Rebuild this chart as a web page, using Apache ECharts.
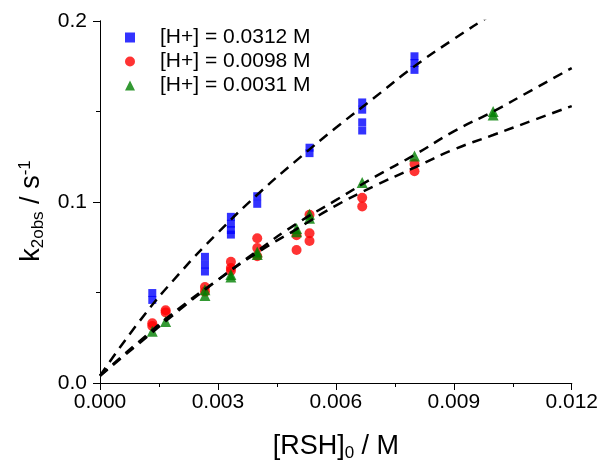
<!DOCTYPE html>
<html><head><meta charset="utf-8">
<script src="https://cdn.jsdelivr.net/npm/echarts@6/dist/echarts.min.js"></script>
<style>html,body{margin:0;padding:0;background:#fff}#c{width:601px;height:467px}</style>
</head><body><div id="c"></div>
<script>
const seriesNames = ['[H+] = 0.0312 M', '[H+] = 0.0098 M', '[H+] = 0.0031 M'];
const blueData = [[0.00133,0.0497],[0.00133,0.0459],
 [0.00267,0.0697],[0.00267,0.0654],[0.00267,0.0616],
 [0.00333,0.0918],[0.00333,0.0880],[0.00333,0.0845],[0.00333,0.0820],
 [0.004,0.1032],[0.004,0.0990],
 [0.00533,0.1300],[0.00533,0.1270],
 [0.00667,0.1550],[0.00667,0.1510],[0.00667,0.1440],[0.00667,0.1395],
 [0.008,0.1805],[0.008,0.1768],[0.008,0.1730]];
const redData = [[0.00133,0.0330],[0.00133,0.0315],
 [0.00167,0.0402],[0.00167,0.0390],
 [0.00267,0.0530],[0.00267,0.0505],
 [0.00333,0.0670],[0.00333,0.0635],[0.00333,0.0620],
 [0.004,0.0800],[0.004,0.0746],[0.004,0.0700],
 [0.005,0.0816],[0.005,0.0735],
 [0.00533,0.0930],[0.00533,0.0827],[0.00533,0.0785],
 [0.00667,0.1023],[0.00667,0.0975],
 [0.008,0.1210],[0.008,0.1170]];
const greenData = [[0.00133,0.0286],[0.00167,0.0340],
 [0.00267,0.0515],[0.00267,0.0483],
 [0.00333,0.0600],[0.00333,0.0585],
 [0.004,0.0724],[0.004,0.0710],
 [0.005,0.0854],[0.005,0.0835],
 [0.00533,0.0933],[0.00533,0.0910],
 [0.00667,0.1108],
 [0.008,0.1254],
 [0.01,0.1500],[0.01,0.1480]];
const fitX = [0,0.001,0.002,0.003,0.004,0.005,0.006,0.007,0.008,0.009,0.010,0.011,0.012];
const fitBlue  = [0.004,0.034,0.060,0.083,0.104,0.123,0.141,0.158,0.175,0.190,0.204,0.217,0.230];
const fitRed   = [0.004,0.023,0.041,0.057,0.072,0.085,0.098,0.109,0.119,0.129,0.137,0.145,0.153];
const fitGreen = [0.004,0.022,0.040,0.057,0.073,0.088,0.101,0.114,0.126,0.139,0.150,0.162,0.174];

const F = 'Liberation Sans, Arial, sans-serif';
const pair = (xs, ys) => xs.map((x,i)=>[x, ys[i]]);
const lineS = (ys) => ({type:'line', data: pair(fitX, ys), smooth: true, symbol:'none', silent:true, z:5,
  lineStyle:{color:'#000', width:2.5, type:[10,7]}, clip:true});
const axLine = {show:true, lineStyle:{color:'#000', width:1}};
const chart = echarts.init(document.getElementById('c'));
chart.setOption({
  animation:false,
  grid:{left:100, right:28, top:21, bottom:76},
  legend:{orient:'vertical', left:120, top:22, itemWidth:10, itemHeight:10, itemGap:3,
    textStyle:{fontFamily:F, fontSize:21, color:'#000', padding:[0,0,0,20]},
    data:[{name:seriesNames[0], icon:'rect'},{name:seriesNames[1], icon:'circle'},{name:seriesNames[2], icon:'triangle'}]},
  xAxis:[{type:'value', min:0, max:0.012, interval:0.003, position:'bottom',
    axisLine:axLine, axisTick:{show:true, length:7, lineStyle:{color:'#000'}},
    minorTick:{show:true, splitNumber:2, length:4, lineStyle:{color:'#000'}},
    splitLine:{show:false},
    axisLabel:{fontFamily:F, fontSize:21, color:'#000', margin:9, formatter:v=>v.toFixed(3)},
    name:'{a|[RSH]}{s|0}{a| / M}', nameLocation:'middle', nameGap:49,
    nameTextStyle:{rich:{a:{fontFamily:F, fontSize:27, color:'#000', lineHeight:30},
      s:{fontFamily:F, fontSize:17, color:'#000', lineHeight:16, verticalAlign:'bottom'}}}},
   {type:'value', min:0, max:0.012, interval:0.003, position:'top',
    axisLine:axLine, axisTick:{show:true, inside:true, length:5, lineStyle:{color:'#000'}},
    minorTick:{show:true, splitNumber:2, length:3, lineStyle:{color:'#000'}},
    splitLine:{show:false}, axisLabel:{show:false}}],
  yAxis:[{type:'value', min:0, max:0.2, interval:0.1, position:'left',
    axisLine:axLine, axisTick:{show:true, length:7, lineStyle:{color:'#000'}},
    minorTick:{show:true, splitNumber:2, length:4, lineStyle:{color:'#000'}},
    splitLine:{show:false},
    axisLabel:{fontFamily:F, fontSize:21, color:'#000', margin:13, formatter:v=>v.toFixed(1)},
    name:'{a|k}{s|2obs}{a| / s}{p|-1}', nameLocation:'middle', nameGap:50, nameRotate:90,
    nameTextStyle:{padding:[0,0,0,-18], rich:{a:{fontFamily:F, fontSize:27, color:'#000', lineHeight:30},
      s:{fontFamily:F, fontSize:17, color:'#000', lineHeight:16, verticalAlign:'bottom'},
      p:{fontFamily:F, fontSize:17, color:'#000', lineHeight:16, verticalAlign:'top'}}}},
   {type:'value', min:0, max:0.2, interval:0.1, position:'right',
    axisLine:axLine, axisTick:{show:true, inside:true, length:5, lineStyle:{color:'#000'}},
    minorTick:{show:true, splitNumber:2, length:3, lineStyle:{color:'#000'}},
    splitLine:{show:false}, axisLabel:{show:false}}],
  series:[
    {name:seriesNames[0], type:'scatter', data:blueData, symbol:'rect', symbolSize:8, itemStyle:{color:'#0000ff'}, z:3},
    {name:seriesNames[1], type:'scatter', data:redData, symbol:'circle', symbolSize:10, itemStyle:{color:'#ff0000'}, z:2},
    {name:seriesNames[2], type:'scatter', data:greenData, symbol:'triangle', symbolSize:11, itemStyle:{color:'#008000'}, z:3},
    lineS(fitBlue), lineS(fitRed), lineS(fitGreen)
  ]
});
</script></body></html>
